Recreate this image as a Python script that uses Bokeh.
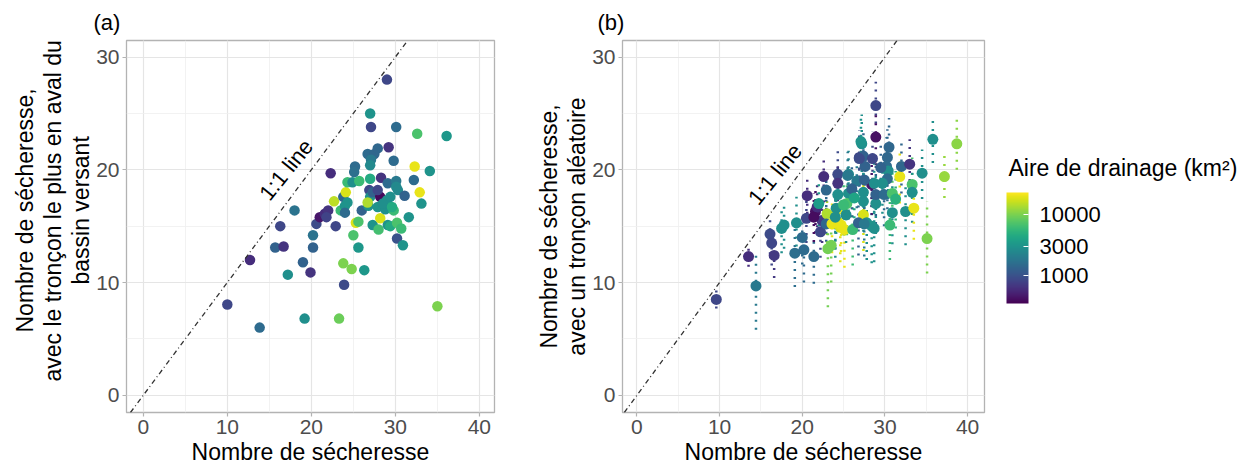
import math

from bokeh.core.properties import value
from bokeh.embed import file_html
from bokeh.layouts import row
from bokeh.models import (ColorBar, ColumnDataSource, FixedTicker, Label, LogColorMapper,
                          PrintfTickFormatter, Range1d, SingleIntervalTicker, Slope, Title)
from bokeh.palettes import Viridis256
from bokeh.plotting import figure
from bokeh.resources import INLINE

FONT = "Liberation Sans"

# ---- (a) downstream reach vs drought count -------------------------------
a_x = [10.0, 13.85, 12.7, 17.2, 15.7, 16.7, 16.3, 18.0, 19.2, 19.0, 19.9, 20.2, 20.2, 20.6,
       21.0, 21.6, 22.0, 21.8, 22.3, 22.9, 22.7, 23.3, 23.8, 23.9, 24.8, 25.0, 25.3, 25.6,
       25.6, 26.3, 23.5, 24.0, 24.0, 23.8, 24.1, 24.3, 24.9, 25.7, 25.2, 25.1, 26.0, 26.7,
       27.0, 27.1, 27.5, 27.1, 27.0, 27.0, 26.9, 27.0, 26.8, 26.7, 27.3, 27.3, 27.9, 28.0,
       28.3, 28.2, 27.9, 28.2, 29.0, 29.2, 29.1, 28.8, 29.0, 29.1, 29.4, 29.8, 29.8, 30.1,
       30.1, 30.1, 30.3, 30.2, 30.2, 30.7, 30.9, 31.1, 31.6, 32.3, 32.2, 32.9, 32.6, 33.1,
       34.1, 35.0, 36.1, 28.5, 29.6, 24.3, 27.9, 29.4]
a_y = [8.05, 6.0, 12.0, 10.7, 13.1, 13.2, 15.0, 16.4, 6.8, 11.8, 10.9, 13.1, 14.2, 15.2,
       15.8, 16.1, 16.4, 15.8, 19.7, 15.0, 17.2, 6.8, 11.7, 9.8, 11.2, 14.2, 15.3, 15.4,
       13.1, 11.1, 16.4, 16.8, 16.2, 17.6, 18.0, 18.9, 18.9, 19.0, 20.3, 19.8, 16.4, 21.4,
       25.0, 23.8, 21.4, 20.9, 20.4, 19.2, 18.2, 17.6, 16.8, 17.1, 18.0, 15.1, 21.9, 14.7,
       19.3, 17.6, 16.7, 15.7, 28.0, 22.0, 18.8, 16.5, 17.3, 15.1, 15.0, 16.4, 20.8, 23.8,
       19.0, 18.5, 18.2, 15.3, 13.9, 14.8, 13.3, 17.7, 15.8, 20.3, 19.1, 18.0, 23.2, 17.0,
       19.9, 7.9, 23.0, 17.0, 16.7, 17.1, 18.2, 17.6]
a_area = [850, 1500, 600, 2800, 1300, 650, 850, 1700, 2800, 1300, 650, 1300, 1700, 900,
          450, 600, 650, 800, 600, 850, 15000, 9000, 10000, 900, 10000, 7000, 18000, 7000,
          3200, 3200, 6000, 3000, 1500, 1400, 18000, 6000, 2800, 6000, 1500, 1600, 1300, 1500,
          3000, 850, 1400, 1900, 2500, 4500, 850, 2800, 3000, 14000, 1300, 3000, 1400, 6500,
          650, 380, 3000, 18000, 850, 650, 1500, 2800, 3000, 3000, 4500, 6000, 1500, 1500,
          1900, 2500, 2500, 7000, 1000, 6000, 3000, 1300, 3000, 20000, 1500, 20000, 7000, 3000,
          3000, 10000, 3200, 2800, 4500, 3000, 850, 2800]

# ---- (b) random reach: mean and min-max spread ---------------------------
b_x = [9.6, 14.4, 13.5, 16.1, 16.3, 16.6, 17.5, 17.8, 19.1, 19.3, 20.0, 20.2, 21.4, 20.5,
       20.6, 21.6, 21.8, 22.2, 22.6, 22.4, 23.0, 22.9, 23.1, 23.5, 22.9, 24.3, 24.3, 24.3,
       24.1, 24.0, 24.6, 25.1, 25.3, 25.6, 25.6, 25.4, 26.1, 26.6, 26.0, 26.9, 27.2, 27.4,
       27.6, 27.4, 27.4, 27.4, 26.8, 27.8, 28.4, 28.5, 28.9, 28.9, 28.4, 28.7, 28.9, 28.9,
       30.3, 30.5, 30.2, 30.4, 30.3, 29.7, 29.9, 30.6, 30.9, 30.9, 31.8, 32.0, 32.5, 33.0,
       33.3, 33.3, 33.5, 34.5, 35.1, 35.8, 37.2, 38.7, 23.6, 24.7, 24.0, 25.0, 27.5, 27.5,
       28.7, 21.4, 25.5, 27.1, 26.9, 29.5, 26.3, 22.0, 31.3]
b_y = [8.5, 9.7, 12.3, 14.3, 13.5, 12.4, 14.8, 15.1, 12.6, 15.3, 14.0, 12.9, 12.3, 15.7,
       17.7, 16.3, 16.7, 14.5, 19.4, 15.5, 16.1, 15.2, 13.0, 13.3, 18.2, 19.6, 18.8, 17.8,
       16.6, 15.2, 14.9, 14.7, 16.0, 19.6, 17.9, 17.0, 14.7, 19.0, 18.3, 21.1, 22.3, 21.2,
       20.3, 18.0, 17.2, 16.0, 15.3, 15.3, 15.0, 21.0, 25.7, 22.9, 18.7, 18.8, 17.0, 17.8,
       21.1, 22.0, 20.3, 19.9, 19.2, 18.8, 17.8, 15.1, 16.2, 17.9, 19.4, 20.3, 16.3, 20.5,
       18.7, 18.0, 16.6, 19.7, 13.9, 22.7, 19.4, 22.3, 15.2, 15.1, 15.8, 16.9, 19.1, 15.2,
       14.8, 15.8, 19.5, 22.5, 21.0, 20.2, 17.5, 17.0, 17.4]
b_lo = [7.7, 5.8, 11.4, 12.5, 11.5, 10.4, 12.6, 13.0, 9.6, 13.2, 11.6, 10.0, 9.9, 13.5,
        15.4, 14.4, 14.2, 12.2, 17.1, 13.5, 12.8, 12.9, 7.8, 10.0, 16.0, 17.2, 16.6, 15.4,
        14.3, 12.2, 11.8, 11.3, 13.5, 17.3, 15.6, 14.2, 11.5, 16.6, 15.8, 18.6, 19.8, 18.8,
        17.9, 15.3, 14.5, 12.8, 12.4, 12.0, 11.7, 18.4, 24.1, 20.4, 16.0, 16.2, 14.3, 15.2,
        18.5, 19.5, 17.8, 17.4, 16.5, 16.1, 15.0, 12.0, 13.4, 15.3, 17.0, 17.9, 13.3, 18.3,
        16.0, 15.3, 13.8, 17.4, 10.8, 20.6, 17.5, 20.0, 12.6, 12.7, 13.0, 14.2, 16.5, 12.3,
        11.8, 13.6, 17.2, 20.1, 18.5, 17.7, 15.0, 15.0, 14.8]
b_hi = [9.3, 12.9, 13.0, 15.8, 14.9, 13.6, 16.4, 17.2, 14.8, 17.6, 15.6, 14.8, 14.1, 17.8,
        19.6, 18.6, 18.9, 16.3, 21.3, 17.4, 18.8, 17.6, 16.6, 16.1, 20.1, 21.8, 20.6, 20.0,
        18.6, 17.4, 17.3, 17.1, 18.2, 21.7, 20.2, 19.3, 17.3, 21.4, 20.4, 23.2, 24.9, 23.5,
        22.8, 20.6, 19.8, 18.9, 17.8, 17.9, 17.6, 23.4, 27.8, 25.3, 21.4, 21.2, 19.7, 20.5,
        23.6, 24.6, 22.9, 22.2, 21.6, 21.0, 20.4, 17.8, 18.9, 20.1, 21.9, 22.6, 18.9, 22.7,
        21.1, 20.4, 18.8, 21.8, 17.2, 24.7, 21.5, 24.7, 17.0, 17.1, 17.7, 18.8, 21.5, 17.5,
        17.2, 17.9, 21.6, 25.0, 23.5, 22.6, 19.8, 19.0, 19.9]
b_area = [850, 1900, 600, 900, 850, 700, 2800, 2800, 1600, 2800, 1500, 1500, 1500, 850,
          600, 420, 600, 850, 600, 700, 14000, 1400, 9500, 9500, 1400, 900, 650, 2800,
          2800, 2800, 18000, 20000, 2800, 2500, 2800, 7000, 6000, 1900, 1300, 850, 2800, 1300,
          1300, 2800, 2800, 18000, 1300, 2800, 3000, 850, 850, 420, 450, 2800, 2800, 1300,
          1400, 1400, 1500, 2800, 1500, 2800, 1500, 6000, 2800, 7000, 20000, 1400, 2800, 650,
          7000, 2800, 20000, 2800, 10000, 2800, 12000, 11000, 20000, 20000, 2800, 6000, 1300, 1900,
          2800, 400, 1900, 3000, 900, 1300, 4000, 3500, 5000]

# ---- shared scales ---------------------------------------------------------
legend_ticks = [1000, 3000, 10000]
legend_title = "Aire de drainage (km²)"
mapper = LogColorMapper(palette=Viridis256, low=347, high=22900)
color = {"field": "area", "transform": mapper}


def make_panel(width, x_range, border_left, border_right, tag, tag_offset):
    p = figure(width=width, height=471, x_range=Range1d(*x_range), y_range=Range1d(-1.53, 31.47),
               output_backend="svg", toolbar_location=None,
               min_border_left=border_left, min_border_right=border_right,
               min_border_top=40, min_border_bottom=59)
    p.background_fill_color = "white"
    p.border_fill_color = "white"
    p.outline_line_color = "#b3b3b3"
    p.outline_line_width = 1.3

    p.title.text = tag
    p.title.align = "left"
    p.title.offset = tag_offset
    p.title.standoff = 12
    p.title.text_font = FONT
    p.title.text_font_size = "22px"
    p.title.text_font_style = "normal"
    p.title.text_color = "black"

    p.xaxis.ticker = SingleIntervalTicker(interval=10, num_minor_ticks=2)
    p.yaxis.ticker = SingleIntervalTicker(interval=10, num_minor_ticks=2)
    for ax in (p.xaxis, p.yaxis):
        ax.axis_line_color = None
        ax.major_tick_line_color = "#b3b3b3"
        ax.major_tick_line_width = 1.2
        ax.major_tick_in = 0
        ax.major_tick_out = 4
        ax.minor_tick_line_color = None
        ax.major_label_text_font = FONT
        ax.major_label_text_font_size = "21px"
        ax.major_label_text_color = "#4d4d4d"
        ax.major_label_standoff = 3
        ax.axis_label_text_font = FONT
        ax.axis_label_text_font_size = "23px"
        ax.axis_label_text_font_style = "normal"
        ax.axis_label_text_color = "black"
    p.xaxis.axis_label = "Nombre de sécheresse"
    p.xaxis.axis_label_standoff = 2

    for g in (p.xgrid, p.ygrid):
        g.grid_line_color = "#e5e5e5"
        g.grid_line_width = 1.2
        g.minor_grid_line_color = "#efefef"
        g.minor_grid_line_width = 0.8

    p.add_layout(Slope(gradient=1, y_intercept=0, line_color="#333333",
                       line_width=1.3, line_dash="5 3 1 3"))
    return p


def add_ylabel_lines(p, lines, offsets=None):
    # lines listed from the one nearest the axis outward
    for i, txt in enumerate(lines):
        t = Title(text=txt, text_font=FONT, text_font_size="23px",
                  text_font_style="normal", text_color="black", standoff=0)
        if offsets is None:
            t.align = "center"
        else:
            t.align = "left"
            t.offset = offsets[i]
        p.add_layout(t, "left")


def one_to_one(p, x, y):
    p.text(x=[x], y=[y], text=["1:1 line"], angle=math.radians(51),
           text_align="center", text_baseline="middle",
           text_font=value(FONT), text_font_size="22px", text_color="black")


# panel (a)
pa = make_panel(505, (-2.0, 41.8), 126, 11, "(a)", -33)
add_ylabel_lines(pa, ["bassin versant",
                      "avec le tronçon le plus en aval du",
                      "Nombre de sécheresse,"], offsets=[128, 31, 80])
src_a = ColumnDataSource(dict(x=a_x, y=a_y, area=a_area))
pa.scatter("x", "y", source=src_a, size=10.5, fill_color=color, line_color=None)
one_to_one(pa, 17.0, 20.0)

# panel (b)
pb = make_panel(481, (-1.75, 42.05), 117, 2, "(b)", -25)
add_ylabel_lines(pb, ["avec un tronçon aléatoire", "Nombre de sécheresse,"])
src_b = ColumnDataSource(dict(x=b_x, y=b_y, lo=b_lo, hi=b_hi, area=b_area))
pb.segment(x0="x", y0="lo", x1="x", y1="hi", source=src_b, line_color=color,
           line_width=2.5, line_dash="2 6")
pb.scatter("x", "y", source=src_b, size=11, fill_color=color, line_color=None)
one_to_one(pb, 16.7, 19.6)

# colour key: its own axis-less canvas; frame shares the panels' top/bottom borders,
# ranges are pixels from the frame's lower-left corner
pk = figure(width=259, height=471, title=None, x_range=Range1d(0, 259), y_range=Range1d(0, 372),
            x_axis_type=None, y_axis_type=None, output_backend="svg", toolbar_location=None,
            min_border_left=0, min_border_right=0, min_border_top=40, min_border_bottom=59)
pk.outline_line_color = None
pk.grid.visible = False
pk.background_fill_color = "white"
pk.border_fill_color = "white"

cbar = ColorBar(color_mapper=mapper, ticker=FixedTicker(ticks=legend_ticks),
                formatter=PrintfTickFormatter(format="%d"),
                orientation="vertical",
                width=22, height=111, location=(10, 99), padding=10,
                major_label_text_font=FONT, major_label_text_font_size="22px",
                major_label_text_color="black", label_standoff=11,
                major_tick_line_color="white", major_tick_in=5, major_tick_out=0,
                bar_line_color=None, border_line_color=None,
                background_fill_color=None)
pk.add_layout(cbar, "center")
pk.add_layout(Label(x=22, y=245, text=legend_title,
                    text_font=FONT, text_font_size="23px", text_color="black",
                    text_align="left", text_baseline="middle"))

layout = row(pa, pb, pk)
open("out.html", "w").write(file_html(layout, INLINE))
